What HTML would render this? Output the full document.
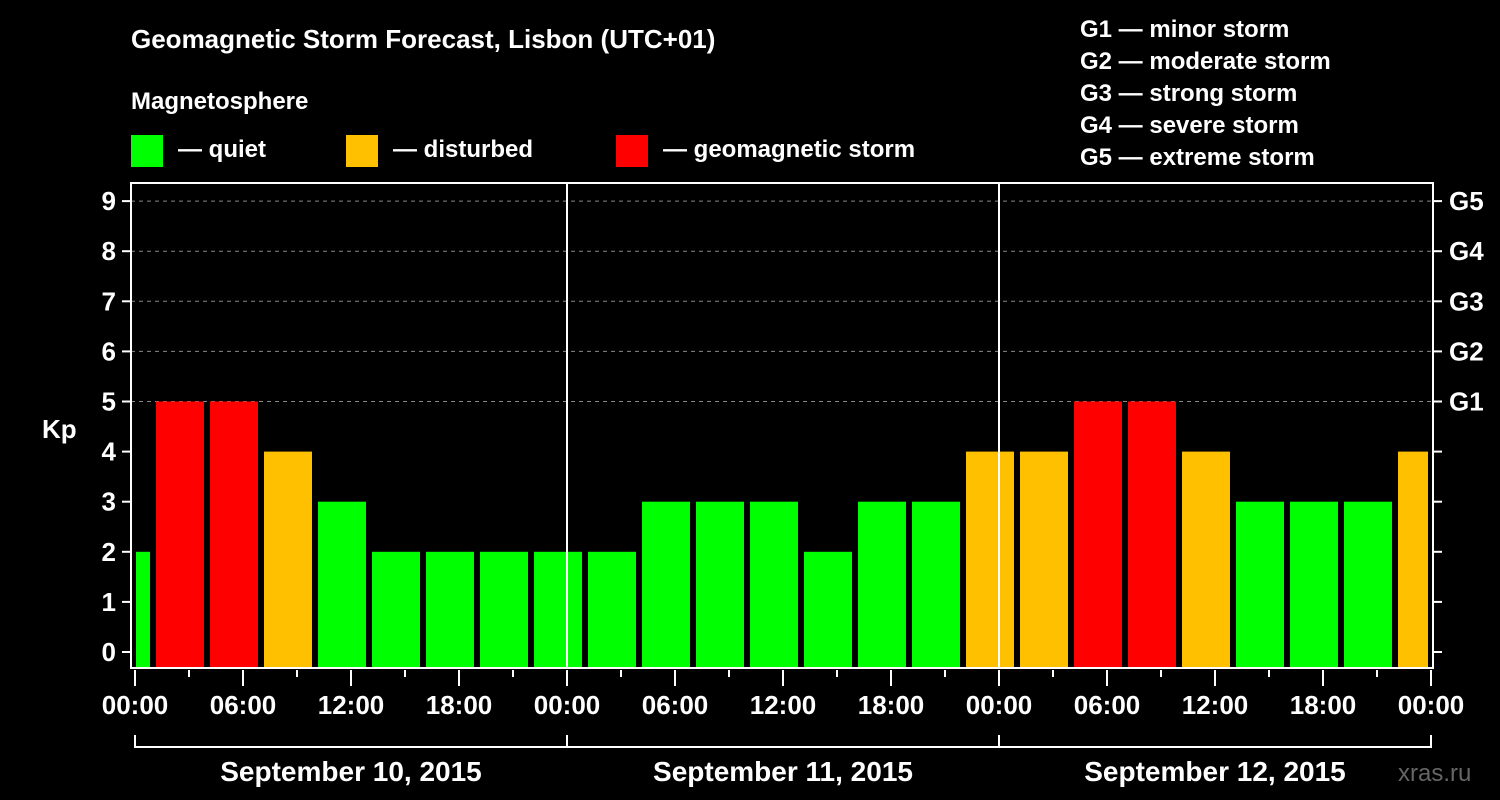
<!DOCTYPE html>
<html><head><meta charset="utf-8"><style>
html,body{margin:0;padding:0;background:#000;}
svg{display:block;font-family:"Liberation Sans",Arial,sans-serif;font-weight:bold;}
</style></head><body>
<svg id="chart" width="1500" height="800" viewBox="0 0 1500 800" xmlns="http://www.w3.org/2000/svg">
<rect x="0" y="0" width="1500" height="800" fill="#000"/>
<text x="131" y="48" fill="#fff" font-size="26">Geomagnetic Storm Forecast, Lisbon (UTC+01)</text>
<text x="131" y="109" fill="#fff" font-size="24">Magnetosphere</text>
<g><rect x="131" y="135" width="32" height="32" fill="#00ff00"/><text x="178" y="157" fill="#fff" font-size="24">— quiet</text></g>
<g><rect x="346" y="135" width="32" height="32" fill="#ffc000"/><text x="393" y="157" fill="#fff" font-size="24">— disturbed</text></g>
<g><rect x="616" y="135" width="32" height="32" fill="#ff0000"/><text x="663" y="157" fill="#fff" font-size="24">— geomagnetic storm</text></g>
<g fill="#fff" font-size="24">
<text x="1080" y="37">G1 — minor storm</text>
<text x="1080" y="69">G2 — moderate storm</text>
<text x="1080" y="101">G3 — strong storm</text>
<text x="1080" y="133">G4 — severe storm</text>
<text x="1080" y="165">G5 — extreme storm</text>
</g>
<text x="42" y="438" fill="#fff" font-size="26">Kp</text>
<text x="1398" y="781" fill="#666" font-size="24" font-weight="normal" font-weight="bold">xras.ru</text>
<g id="grid"></g><g id="bars"></g><g id="axes"></g>
</svg>
<script>
const kpValues=[2,5,5,4,3,2,2,2,2,2,3,3,3,2,3,3,4,4,5,5,4,3,3,3,4];
const dayLabels=["September 10, 2015","September 11, 2015","September 12, 2015"];
const hourLabels=["00:00","06:00","12:00","18:00"];
const gLabels=["G1","G2","G3","G4","G5"];
const yTicks=[0,1,2,3,4,5,6,7,8,9];
const utcOffset=1;
const NS="http://www.w3.org/2000/svg";
const L=131,R=1433,T=183,B=668;
const x0=135,pxh=18;
function xs(h){return x0+h*pxh;}
function ys(v){return 652-v*50.1;}
function mk(tag,attrs,parent){const e=document.createElementNS(NS,tag);for(const k in attrs)e.setAttribute(k,attrs[k]);parent.appendChild(e);return e;}
function col(v){return v>=5?"#ff0000":v>=4?"#ffc000":"#00ff00";}
const grid=document.getElementById("grid"),bars=document.getElementById("bars"),axes=document.getElementById("axes");
for(let v=5;v<=9;v++){const l=mk("line",{x1:L,x2:R,y1:ys(v),y2:ys(v),stroke:"#888","stroke-dasharray":"4,4","stroke-width":1},grid);

}
kpValues.forEach((v,i)=>{let s=i*3-2+utcOffset-1+1; s=i*3-3+utcOffset+1; let a=Math.max(0,i*3-2), b=Math.min(72,i*3+1);
let xa=xs(a)+3, xb=xs(b)-3; if(a===0)xa=xs(0)+1;
const r=mk("rect",{x:xa,y:ys(v),width:xb-xa,height:B-ys(v),fill:col(v)},bars);

});
const frame=mk("rect",{x:L,y:T,width:R-L,height:B-T,fill:"none",stroke:"#fff","stroke-width":2},axes);


[1,2].forEach(d=>{const l=mk("line",{x1:xs(d*24),x2:xs(d*24),y1:T,y2:B,stroke:"#fff","stroke-width":2},axes);

});
yTicks.forEach(v=>{mk("line",{x1:122,x2:L,y1:ys(v),y2:ys(v),stroke:"#fff","stroke-width":2},axes);
mk("line",{x1:R,x2:1442,y1:ys(v),y2:ys(v),stroke:"#fff","stroke-width":2},axes);
const t=mk("text",{x:116,y:ys(v)+9,fill:"#fff","font-size":26,"text-anchor":"end"},axes);t.textContent=v;

});
gLabels.forEach((g,i)=>{const t=mk("text",{x:1449,y:ys(i+5)+9,fill:"#fff","font-size":26},axes);t.textContent=g;

});
for(let h=0;h<=72;h+=3){const long=h%6===0;mk("line",{x1:xs(h),x2:xs(h),y1:B+2,y2:long?686:677,stroke:"#fff","stroke-width":2},axes);}
for(let h=0;h<=72;h+=6){const t=mk("text",{x:xs(h),y:714,fill:"#fff","font-size":26,"text-anchor":"middle"},axes);t.textContent=hourLabels[(h/6)%4];

}
mk("path",{d:`M${xs(0)} 735V747H${xs(72)}V735M${xs(24)} 747V735M${xs(48)} 747V735`,stroke:"#fff","stroke-width":2,fill:"none"},axes);
dayLabels.forEach((d,i)=>{const t=mk("text",{x:xs(i*24+12),y:781,fill:"#fff","font-size":28,"text-anchor":"middle"},axes);t.textContent=d;

});
</script>
</body></html>
